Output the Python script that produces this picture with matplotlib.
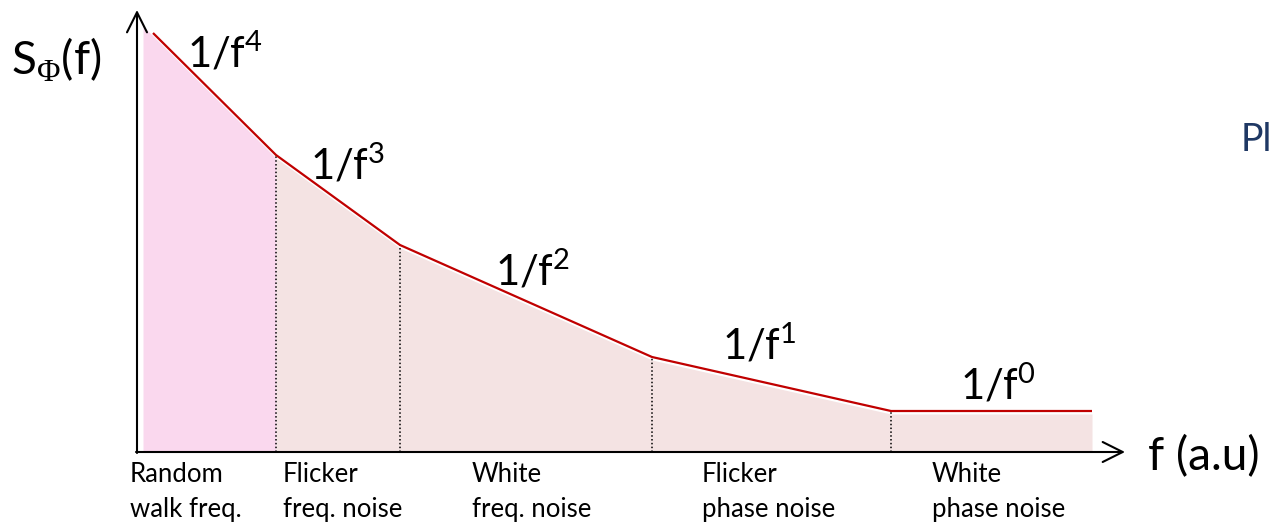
import numpy as np
import matplotlib.pyplot as plt

plt.rcParams['font.family'] = ['Lato', 'DejaVu Sans']
plt.rcParams['mathtext.fontset'] = 'custom'
plt.rcParams['mathtext.rm'] = 'Lato'
plt.rcParams['mathtext.it'] = 'Lato'
plt.rcParams['mathtext.sf'] = 'Liberation Serif'

# Data (arbitrary units, origin at the axes corner)
corner_f = [16, 139, 263, 515, 754, 955]
corner_S = [419, 297, 207, 95, 41, 41]
slope_labels = [r'1/f$^{4}$', r'1/f$^{3}$', r'1/f$^{2}$', r'1/f$^{1}$', r'1/f$^{0}$']
slope_label_pos = [(50, 385), (173, 272), (358, 167), (585, 92), (823, 52)]
region_labels = [('Random', 'walk freq.'), ('Flicker', 'freq. noise'), ('White', 'freq. noise'),
                 ('Flicker', 'phase noise'), ('White', 'phase noise')]
region_label_x = [-7, 146, 335, 565, 795]

fig = plt.figure(figsize=(12.72, 5.25), dpi=100)
ax = fig.add_axes([0, 0, 1, 1])
ax.set_xlim(-137, 1135)
ax.set_ylim(-73, 452)
ax.axis('off')

f = np.array(corner_f, dtype=float)
S = np.array(corner_S, dtype=float)

# shaded areas under the curve
slope0 = (S[1] - S[0]) / (f[1] - f[0])
f_ext = np.concatenate([[6], f])
S_ext = np.concatenate([[S[0] + slope0 * (6 - f[0])], S]) - 3
ax.fill_between(f_ext[:3], 0, S_ext[:3], color='#FAD8EE', lw=0)
ax.fill_between(f_ext[2:], 0, S_ext[2:], color='#F4E3E3', lw=0)

# spectrum
ax.plot(f, S, color='#C00000', lw=1.6, solid_capstyle='butt', zorder=3)

# dotted separators
for xi, yi in zip(f[1:5], S[1:5]):
    ax.plot([xi, xi], [0, yi], color='black', lw=1.1, ls=(0, (1, 1.5)), zorder=2)

# axes with open arrow heads
arrow = dict(arrowstyle='->,head_length=1.44,head_width=0.72', color='black', lw=1.5,
             mutation_scale=10, shrinkA=0, shrinkB=0)
ax.annotate('', xy=(0, 442), xytext=(0, -1), arrowprops=arrow)
ax.annotate('', xy=(988, 0), xytext=(-1, 0), arrowprops=arrow)

# labels
ax.text(-126, 392, r'S$_{\mathsf{\Phi}}$(f)', fontsize=33, va='center', ha='left')
ax.text(1011, -5, 'f (a.u)', fontsize=33, va='center', ha='left')
ax.text(1104, 312, 'Pl', fontsize=27, va='center', ha='left', color='#1F3864')

for lab, (x, y) in zip(slope_labels, slope_label_pos):
    ax.text(x, y, lab, fontsize=30, va='baseline', ha='left')

for (l1, l2), x in zip(region_labels, region_label_x):
    ax.text(x, -23, l1, fontsize=18.5, va='center', ha='left')
    ax.text(x, -58, l2, fontsize=18.5, va='center', ha='left')

fig.savefig('out.png', dpi=100)
